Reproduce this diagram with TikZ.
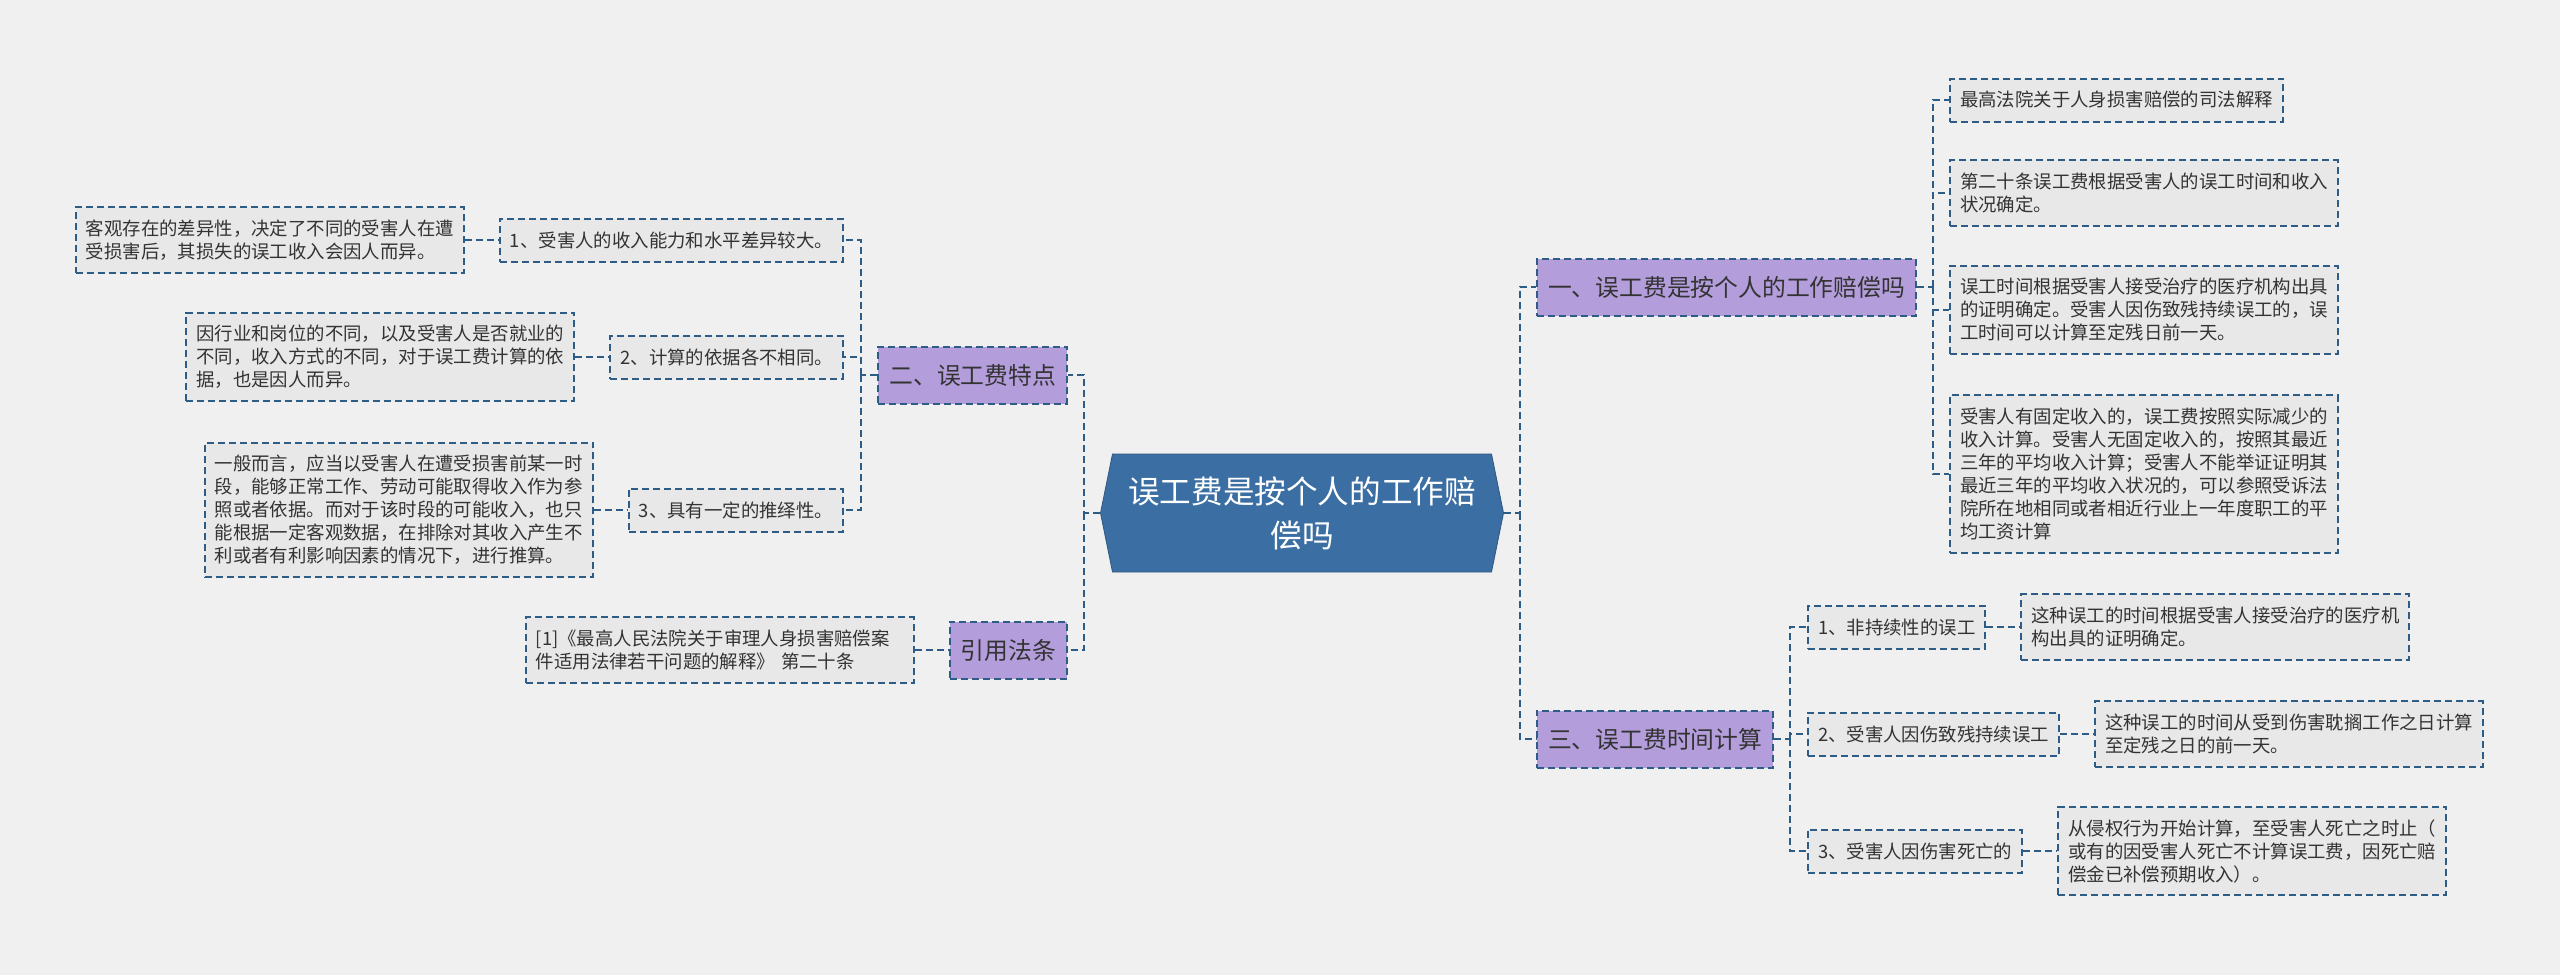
\documentclass[tikz,border=0pt]{standalone}
\usepackage{fontspec}
\setmainfont{Noto Sans CJK SC}
\usetikzlibrary{positioning,calc,shapes.symbols}
\definecolor{bggray}{HTML}{F0F0F0}
\definecolor{leafgray}{HTML}{E8E8E8}
\definecolor{dashblue}{HTML}{2D5D86}
\definecolor{topicpurple}{HTML}{B39DDB}
\definecolor{rootblue}{HTML}{3B6EA2}
\definecolor{inkgray}{HTML}{333333}

\begin{document}
\begin{tikzpicture}[x=0.5pt,y=-0.5pt,node distance=17pt,
   link/.style={draw=dashblue,line width=1pt,dash pattern=on 3.5pt off 2pt},
   leaf/.style={link,fill=leafgray,text=inkgray,text width=184pt,align=left,
     inner xsep=5pt,inner ysep=6.3pt,font=\fontsize{9.2}{11.5}\selectfont},
   sub/.style={link,fill=leafgray,text=inkgray,inner xsep=5pt,
     minimum height=21.5pt,font=\fontsize{9.2}{11.5}\selectfont},
   topic/.style={link,fill=topicpurple,text=inkgray,inner xsep=5.5pt,
     minimum height=28.5pt,font=\fontsize{11.9}{14}\selectfont}]
  \fill[bggray] (0,0) rectangle (2560,975);
  \useasboundingbox (0,0) rectangle (2560,975);
  \node[signal,signal to=east and west,signal pointer angle=157,fill=rootblue,
    draw=rootblue!80!black,text=white,minimum width=201.5pt,minimum height=59pt,
    align=center,font=\fontsize{15.8}{22}\selectfont] (root) at (1302,513)
    {误工费是按个人的工作赔\\偿吗};

  \node[topic,anchor=east] (l2) at (1068,375) {二、误工费特点};
  \node[topic,anchor=east] (l4) at (1068,650) {引用法条};
  \node[topic,anchor=west] (r1) at (1536,287) {一、误工费是按个人的工作赔偿吗};
  \node[topic,anchor=west] (r3) at (1536,739) {三、误工费时间计算};

  \node[sub,anchor=east] (b1) at (844,240) {1、受害人的收入能力和水平差异较大。};
  \node[sub,anchor=east] (b2) at (844,357) {2、计算的依据各不相同。};
  \node[sub,anchor=east] (b3) at (844,510) {3、具有一定的推绎性。};
  \node[leaf,left=of b1] (a1) {客观存在的差异性，决定了不同的受害人在遭\\受损害后，其损失的误工收入会因人而异。};
  \node[leaf,left=of b2] (a2) {因行业和岗位的不同，以及受害人是否就业的\\不同，收入方式的不同，对于误工费计算的依\\据，也是因人而异。};
  \node[leaf,left=of b3] (a3) {一般而言，应当以受害人在遭受损害前某一时\\段，能够正常工作、劳动可能取得收入作为参\\照或者依据。而对于该时段的可能收入，也只\\能根据一定客观数据，在排除对其收入产生不\\利或者有利影响因素的情况下，进行推算。};
  \node[leaf,left=of l4] (a4) {[1]《最高人民法院关于审理人身损害赔偿案\\件适用法律若干问题的解释》 第二十条};

  \node[sub,anchor=west] (c1) at (1949,100) {最高法院关于人身损害赔偿的司法解释};
  \node[leaf,anchor=west] (c2) at (1949,193) {第二十条误工费根据受害人的误工时间和收入\\状况确定。};
  \node[leaf,anchor=west] (c3) at (1949,310) {误工时间根据受害人接受治疗的医疗机构出具\\的证明确定。受害人因伤致残持续误工的，误\\工时间可以计算至定残日前一天。};
  \node[leaf,anchor=west] (c4) at (1949,474) {受害人有固定收入的，误工费按照实际减少的\\收入计算。受害人无固定收入的，按照其最近\\三年的平均收入计算；受害人不能举证证明其\\最近三年的平均收入状况的，可以参照受诉法\\院所在地相同或者相近行业上一年度职工的平\\均工资计算};

  \node[sub,anchor=west] (d1) at (1807,627) {1、非持续性的误工};
  \node[sub,anchor=west] (d2) at (1807,734) {2、受害人因伤致残持续误工};
  \node[sub,anchor=west] (d3) at (1807,851) {3、受害人因伤害死亡的};
  \node[leaf,right=of d1] (e1) {这种误工的时间根据受害人接受治疗的医疗机\\构出具的证明确定。};
  \node[leaf,right=of d2] (e2) {这种误工的时间从受到伤害耽搁工作之日计算\\至定残之日的前一天。};
  \node[leaf,right=of d3] (e3) {从侵权行为开始计算，至受害人死亡之时止（\\或有的因受害人死亡不计算误工费，因死亡赔\\偿金已补偿预期收入）。};

  \coordinate (lbus) at ($(root.west)+(-8pt,0)$);
  \coordinate (rbus) at ($(root.east)+(8pt,0)$);
  \coordinate (l2bus) at ($(l2.west)+(-8pt,0)$);
  \coordinate (r1bus) at ($(r1.east)+(8pt,0)$);
  \coordinate (r3bus) at ($(r3.east)+(8pt,0)$);
  \draw[link] (root.west) -- (lbus) |- (l2.east);
  \draw[link] (lbus) |- (l4.east);
  \draw[link] (root.east) -- (rbus) |- (r1.west);
  \draw[link] (rbus) |- (r3.west);
  \draw[link] (l2.west) -- (l2bus);
  \foreach \n in {b1,b2,b3}
    \draw[link] (l2bus) |- (\n.east);
  \draw[link] (r1.east) -- (r1bus);
  \foreach \n in {c1,c2,c3,c4}
    \draw[link] (r1bus) |- (\n.west);
  \draw[link] (r3.east) -- (r3bus);
  \foreach \n in {d1,d2,d3}
    \draw[link] (r3bus) |- (\n.west);
  \foreach \p/\q in {a1/b1,a2/b2,a3/b3,a4/l4}
    \draw[link] (\p.east) -- (\q.west);
  \foreach \p/\q in {d1/e1,d2/e2,d3/e3}
    \draw[link] (\p.east) -- (\q.west);
\end{tikzpicture}
\end{document}
